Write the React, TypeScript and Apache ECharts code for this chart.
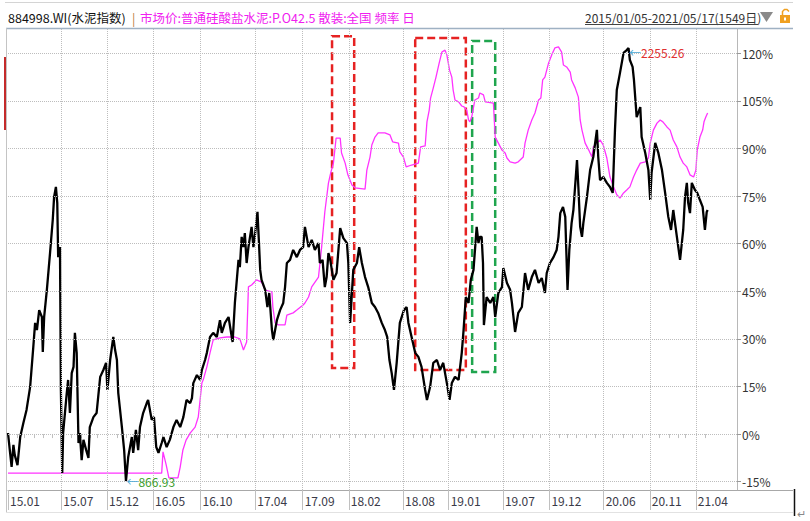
import React, { useEffect, useRef } from "react";
import * as echarts from "echarts";

// ---------- texts ----------
const indexName = "884998.WI(水泥指数)";
const priceName = "市场价:普通硅酸盐水泥:P.O42.5 散装:全国 频率 日";
const dateRange = "2015/01/05-2021/05/17(1549日)";

// ---------- x axis (trading-day index) ----------
const xTickIdx = [0, 118, 219, 321, 426, 547, 652, 754, 874, 975, 1095, 1198, 1318, 1420, 1522];
const xTickLabels = ["15.01", "15.07", "15.12", "16.05", "16.10", "17.04", "17.09", "18.02", "18.08", "19.01", "19.07", "19.12", "20.06", "20.11", "21.04"];
const monthStartIdx = [
  20, 35, 57, 78, 97, 141, 162, 182, 198, 242, 262, 278, 301, 342, 362, 383, 406, 442, 464,
  486, 504, 524, 565, 586, 608, 629, 673, 690, 712, 732, 769, 791, 810, 832, 852, 897, 916,
  934, 956, 997, 1013, 1034, 1055, 1076, 1118, 1140, 1159, 1177, 1220, 1237, 1257, 1279, 1300,
  1338, 1361, 1382, 1404, 1441, 1464, 1484, 1499, 1543,
];
const xMax = 1613;

// ---------- y axis ----------
const pctTicks = [-15, 0, 15, 30, 45, 60, 75, 90, 105, 120];
const pctMin = -17.62;
const pctMax = 127.66;
const baseIndex = 1017.5; // index level at 0%

// ---------- series ----------
// 水泥指数 (index level), [trading-day index, value]
const cementIndex: [number, number][] = [
  [0, 1021], [4, 966], [8, 912], [12, 983], [15, 950], [21, 918], [27, 1008], [34, 1053], [41, 1095],
  [49, 1169], [56, 1297], [60, 1374], [64, 1351], [69, 1415], [75, 1393], [77, 1281], [80, 1393],
  [86, 1480], [93, 1598], [99, 1704], [102, 1778], [106, 1810], [109, 1759], [111, 1585], [115, 1617],
  [117, 1159], [120, 893], [122, 1021], [130, 1149], [133, 1191], [137, 1085], [141, 1213], [145, 1233],
  [148, 1342], [152, 1278], [156, 989], [159, 1021], [163, 934], [167, 999], [173, 966], [178, 941],
  [181, 1040], [189, 1072], [196, 1085], [204, 1201], [211, 1223], [217, 1246], [220, 1159], [226, 1255],
  [233, 1329], [237, 1287], [241, 1255], [244, 1149], [252, 1040], [257, 966], [261, 866.93], [266, 944],
  [274, 1008], [277, 957], [283, 1031], [288, 966], [292, 1040], [299, 1085], [307, 1117], [310, 1127],
  [318, 1063], [323, 1072], [328, 976], [333, 957], [340, 989], [344, 1008], [351, 976], [358, 999],
  [366, 1040], [373, 1063], [381, 1040], [388, 1072], [395, 1127], [403, 1117], [407, 1133], [410, 1181],
  [418, 1207], [425, 1191], [429, 1223], [436, 1255], [440, 1278], [447, 1329], [454, 1342], [462, 1329],
  [469, 1383], [473, 1342], [480, 1374], [488, 1393], [495, 1329], [497, 1313], [502, 1438], [510, 1576],
  [513, 1553], [517, 1650], [521, 1617], [524, 1662], [528, 1566], [532, 1617], [539, 1682], [543, 1617],
  [547, 1662], [552, 1730], [555, 1640], [558, 1544], [561, 1512], [569, 1480], [574, 1425], [578, 1470],
  [584, 1351], [587, 1319], [595, 1383], [602, 1415], [609, 1438], [613, 1489], [617, 1566], [624, 1576],
  [631, 1608], [639, 1585], [646, 1608], [653, 1617], [657, 1682], [665, 1617], [672, 1640], [679, 1608],
  [687, 1630], [690, 1566], [696, 1576], [701, 1489], [705, 1521], [709, 1598], [713, 1576], [720, 1512],
  [727, 1534], [735, 1678], [742, 1646], [750, 1630], [753, 1566], [757, 1374], [764, 1544], [772, 1566],
  [777, 1617], [783, 1566], [790, 1521], [797, 1489], [805, 1438], [812, 1425], [819, 1406], [827, 1374],
  [834, 1351], [839, 1329], [844, 1255], [849, 1213], [854, 1159], [860, 1246], [867, 1374], [876, 1415],
  [882, 1425], [886, 1374], [893, 1329], [901, 1278], [908, 1265], [915, 1233], [923, 1159], [927, 1127],
  [934, 1169], [941, 1246], [949, 1255], [956, 1223], [963, 1246], [971, 1181], [977, 1127], [982, 1181],
  [989, 1201], [997, 1191], [1004, 1278], [1008, 1351], [1013, 1457], [1019, 1438], [1024, 1512],
  [1030, 1544], [1037, 1682], [1041, 1630], [1044, 1650], [1048, 1650], [1051, 1566], [1053, 1367],
  [1059, 1457], [1067, 1438], [1074, 1457], [1078, 1393], [1085, 1470], [1093, 1489], [1096, 1550],
  [1104, 1502], [1111, 1480], [1115, 1438], [1122, 1345], [1129, 1406], [1137, 1425], [1144, 1534],
  [1151, 1480], [1159, 1521], [1166, 1544], [1174, 1502], [1181, 1518], [1188, 1470], [1192, 1534],
  [1199, 1566], [1207, 1585], [1214, 1608], [1218, 1650], [1222, 1726], [1228, 1746], [1233, 1714],
  [1238, 1480], [1242, 1608], [1247, 1694], [1251, 1736], [1259, 1896], [1262, 1810], [1266, 1682],
  [1270, 1650], [1273, 1694], [1281, 1778], [1288, 1864], [1295, 1906], [1303, 1993], [1306, 1906],
  [1310, 1832], [1317, 1842], [1325, 1823], [1332, 1810], [1338, 1791], [1343, 1993], [1347, 2121],
  [1354, 2175], [1362, 2240], [1369, 2249], [1373, 2255.26], [1376, 2217], [1382, 2195], [1385, 2153],
  [1391, 2034], [1399, 2066], [1402, 1970], [1410, 1919], [1417, 1864], [1421, 1768], [1424, 1855],
  [1432, 1951], [1439, 1919], [1447, 1864], [1454, 1791], [1461, 1714], [1467, 1672], [1472, 1736],
  [1480, 1650], [1487, 1576], [1494, 1672], [1498, 1778], [1502, 1823], [1505, 1759], [1509, 1726],
  [1513, 1823], [1520, 1800], [1525, 1791], [1531, 1768], [1537, 1746], [1542, 1672], [1546, 1730],
  [1548, 1736],
];

// 市场价 (plotted on the % scale), [trading-day index, value]
const cementPrice: [number, number][] = [
  [0, -12.3], [332, -12.3], [340, -12.3], [343, -5.6], [350, -9.7], [356, -13.8], [376, -13.8],
  [381, -10.4], [387, -5.0], [394, -1.9], [403, 0.3], [414, 2.2], [421, 5.4], [429, 16.1], [432, 17.1],
  [440, 21.2], [447, 25.6], [454, 29.7], [469, 30.3], [484, 30.6], [502, 30.6], [513, 30.0], [521, 26.5],
  [528, 29.0], [532, 46.4], [539, 47.0], [550, 48.6], [561, 47.9], [569, 45.4], [584, 44.8], [586, 40.1],
  [591, 35.0], [598, 34.4], [613, 34.4], [617, 37.5], [631, 38.2], [639, 39.1], [653, 40.7], [657, 41.3],
  [665, 43.2], [672, 46.4], [687, 49.5], [694, 59.0], [701, 70.0], [709, 79.1], [714, 82.3], [720, 85.4],
  [726, 93.3], [735, 93.3], [738, 88.6], [746, 85.4], [752, 81.7], [761, 78.5], [768, 77.6], [790, 77.2],
  [794, 83.2], [801, 87.3], [805, 91.1], [812, 93.6], [819, 94.9], [834, 94.9], [845, 94.3], [851, 92.1],
  [864, 91.7], [867, 88.9], [875, 87.3], [881, 84.2], [893, 84.8], [908, 85.4], [913, 90.5], [923, 90.8],
  [927, 98.4], [932, 102.1], [935, 105.9], [941, 109.1], [947, 112.5], [954, 116.9], [960, 120.4],
  [967, 121.0], [971, 119.5], [977, 114.7], [982, 112.5], [985, 108.4], [989, 105.3], [997, 104.7],
  [1004, 103.4], [1009, 103.1], [1015, 102.1], [1019, 99.0], [1022, 98.4], [1026, 99.9], [1033, 105.3],
  [1041, 105.9], [1044, 107.5], [1052, 106.9], [1056, 104.7], [1074, 104.3], [1078, 93.6], [1085, 91.7],
  [1093, 89.5], [1100, 88.6], [1104, 87.0], [1111, 85.8], [1122, 85.4], [1129, 85.8], [1140, 87.3],
  [1144, 91.7], [1151, 95.8], [1159, 99.0], [1166, 101.2], [1174, 105.3], [1179, 105.9], [1183, 111.6],
  [1188, 112.5], [1196, 116.9], [1203, 119.5], [1210, 121.7], [1218, 122.0], [1225, 120.4], [1229, 116.3],
  [1236, 115.7], [1244, 114.1], [1247, 111.6], [1255, 109.1], [1262, 106.2], [1266, 99.0], [1270, 95.8],
  [1277, 91.7], [1285, 89.5], [1292, 87.3], [1295, 90.5], [1303, 91.7], [1310, 92.7], [1317, 91.1],
  [1325, 87.0], [1332, 81.0], [1340, 77.9], [1347, 75.4], [1354, 74.4], [1362, 76.0], [1369, 76.9],
  [1376, 77.9], [1384, 81.0], [1391, 83.2], [1399, 85.4], [1410, 85.8], [1417, 87.0], [1421, 91.7],
  [1428, 95.8], [1436, 98.0], [1443, 99.0], [1449, 98.4], [1458, 96.8], [1465, 95.8], [1472, 92.7],
  [1480, 90.5], [1487, 87.3], [1494, 85.4], [1502, 84.2], [1509, 81.7], [1517, 81.0], [1522, 83.2],
  [1525, 89.5], [1531, 93.6], [1537, 95.8], [1540, 98.4], [1544, 99.9], [1548, 101.2],
];

// dashed highlight boxes: [x from, x to] trading-day index, [y from, y to] in %
const boxXFrom = [717, 901, 1027];
const boxXTo = [766, 1013, 1078];
const boxYTop = [125.4, 124.8, 123.9];
const boxYBottom = [20.8, 20.2, 19.6];
const boxColors = ["#e62222", "#e62222", "#1fa54e"];

const FONT = '"Microsoft YaHei", "Noto Sans CJK SC", sans-serif';
const GRID_DOT = { type: "dotted", color: "#bdbdbd", width: 1 };

export default function App() {
  const ref = useRef<HTMLDivElement>(null);

  useEffect(() => {
    if (!ref.current) return;
    const chart = echarts.init(ref.current, null, { renderer: "svg" });

    const labelMap: Record<number, string> = {};
    xTickIdx.forEach((v, i) => (labelMap[v] = xTickLabels[i]));

    const option: any = {
      animation: false,
      backgroundColor: "#ffffff",
      grid: { left: 8, right: 73, top: 29, bottom: 31, containLabel: false },
      xAxis: [
        {
          type: "value",
          min: 0,
          max: xMax,
          position: "bottom",
          axisLine: { show: true, onZero: false, lineStyle: { color: "#a8a8a8", width: 1 } },
          axisTick: { show: true, customValues: xTickIdx, length: 20, lineStyle: { color: "#c0c0c0" } },
          axisLabel: {
            show: true,
            customValues: xTickIdx,
            formatter: (v: number) => labelMap[v] ?? "",
            align: "left",
            margin: 4,
            padding: [0, 0, 0, 2],
            color: "#3a3a48",
            fontSize: 12,
            fontFamily: FONT,
          },
          splitLine: { show: false },
        },
        {
          type: "value",
          min: 0,
          max: xMax,
          position: "bottom",
          axisLine: { show: false },
          axisTick: { show: true, customValues: monthStartIdx, length: 4, lineStyle: { color: "#c0c0c0" } },
          axisLabel: { show: false },
          splitLine: { show: false },
        },
      ],
      yAxis: [
        {
          type: "value",
          position: "right",
          min: pctMin,
          max: pctMax,
          axisLine: { show: true, onZero: false, lineStyle: { color: "#b8b8b8", width: 1 } },
          axisTick: { show: true, customValues: pctTicks, length: 4, lineStyle: { color: "#999" } },
          axisLabel: {
            customValues: pctTicks,
            formatter: (v: number) => `${v}%`,
            margin: 5,
            color: "#333",
            fontSize: 12,
            fontFamily: FONT,
          },
          splitLine: { show: false },
        },
        {
          type: "value",
          position: "left",
          min: baseIndex * (1 + pctMin / 100),
          max: baseIndex * (1 + pctMax / 100),
          show: false,
          splitLine: { show: false },
        },
      ],
      series: [
        {
          name: "grid",
          type: "line",
          xAxisIndex: 0,
          yAxisIndex: 0,
          data: [],
          z: 1,
          silent: true,
          markLine: {
            silent: true,
            symbol: ["none", "none"],
            label: { show: false },
            lineStyle: GRID_DOT,
            data: [
              ...pctTicks.map((v) => ({ yAxis: v, lineStyle: GRID_DOT })),
              ...xTickIdx.filter((v) => v > 0).map((v) => ({ xAxis: v, lineStyle: GRID_DOT })),
            ],
          },
        },
        {
          name: priceName,
          type: "line",
          xAxisIndex: 0,
          yAxisIndex: 0,
          data: cementPrice,
          symbol: "none",
          lineStyle: { color: "#ff33ff", width: 1.3 },
          z: 2,
          silent: true,
          markArea: {
            silent: true,
            data: boxXFrom.map((x1, i) => [
              {
                coord: [x1, boxYTop[i]],
                itemStyle: {
                  color: "rgba(0,0,0,0)",
                  borderColor: boxColors[i],
                  borderWidth: 2.5,
                  borderType: [8, 4],
                },
              },
              { coord: [boxXTo[i], boxYBottom[i]] },
            ]),
          },
        },
        {
          name: indexName,
          type: "line",
          xAxisIndex: 0,
          yAxisIndex: 1,
          data: cementIndex,
          symbol: "none",
          lineStyle: { color: "#000000", width: 2.3 },
          z: 3,
          silent: true,
          markPoint: {
            silent: true,
            symbol: "circle",
            symbolSize: 1,
            itemStyle: { color: "rgba(0,0,0,0)" },
            data: [
              {
                type: "max",
                label: {
                  show: true,
                  position: "right",
                  distance: 0,
                  offset: [0, 4],
                  formatter: (p: any) => `{a|←}{b|${p.value}}`,
                  rich: {
                    a: { color: "#4aa8d4", fontSize: 12, fontFamily: FONT },
                    b: { color: "#e0302f", fontSize: 12, fontFamily: FONT },
                  },
                },
              },
              {
                type: "min",
                label: {
                  show: true,
                  position: "right",
                  distance: 0,
                  offset: [0, 0],
                  formatter: (p: any) => `{a|←}{b|${p.value}}`,
                  rich: {
                    a: { color: "#4aa8d4", fontSize: 12, fontFamily: FONT },
                    b: { color: "#3e9e2c", fontSize: 12, fontFamily: FONT },
                  },
                },
              },
            ],
          },
        },
      ],
      graphic: [
        { type: "line", shape: { x1: 5, y1: 2.5, x2: 793, y2: 2.5 }, style: { stroke: "#d4d4d4", lineWidth: 1 }, silent: true },
        { type: "line", shape: { x1: 6, y1: 28.5, x2: 793, y2: 28.5 }, style: { stroke: "#9fb1c3", lineWidth: 1.5 }, silent: true },
        { type: "line", shape: { x1: 6.5, y1: 28, x2: 6.5, y2: 512 }, style: { stroke: "#c4c4c4", lineWidth: 1 }, silent: true },
        { type: "line", shape: { x1: 5, y1: 57, x2: 5, y2: 130 }, style: { stroke: "#c42a2a", lineWidth: 2 }, silent: true },
        { type: "line", shape: { x1: 6, y1: 512.5, x2: 793, y2: 512.5 }, style: { stroke: "#e2e2e2", lineWidth: 1 }, silent: true },
        { type: "line", shape: { x1: 737, y1: 490.5, x2: 793, y2: 490.5 }, style: { stroke: "#a8a8a8", lineWidth: 1 }, silent: true },
        { type: "line", shape: { x1: 794.5, y1: 489, x2: 794.5, y2: 516 }, style: { stroke: "#111", lineWidth: 1.5 }, silent: true },
        { type: "text", x: 797, y: 513, style: { text: "↵", fill: "#888", font: `11px ${FONT}`, verticalAlign: "middle" }, silent: true },
        // header
        { type: "text", x: 8, y: 17, style: { text: indexName, fill: "#111", font: `12.5px ${FONT}`, verticalAlign: "middle" }, silent: true },
        { type: "text", x: 132, y: 17, style: { text: "|", fill: "#b8783c", font: `12.5px ${FONT}`, verticalAlign: "middle" }, silent: true },
        { type: "text", x: 140, y: 17, style: { text: priceName, fill: "#f020f0", font: `12.5px ${FONT}`, verticalAlign: "middle" }, silent: true },
        { type: "text", x: 585, y: 17, style: { text: dateRange, fill: "#333", font: `12px ${FONT}`, verticalAlign: "middle" }, silent: true },
        { type: "line", shape: { x1: 585, y1: 24.5, x2: 758, y2: 24.5 }, style: { stroke: "#444", lineWidth: 1 }, silent: true },
        { type: "polygon", shape: { points: [[760, 12], [773, 12], [766.5, 22]] }, style: { fill: "#8a8a8a" }, silent: true },
        { type: "polyline", shape: { points: [[782.5, 15], [782.5, 11.5], [784.5, 9.5], [787, 9.5], [789, 11.5]] }, style: { stroke: "#f0a020", lineWidth: 1.5, fill: "none" }, silent: true },
        { type: "rect", shape: { x: 780, y: 15, width: 10, height: 8 }, style: { fill: "#f0a020" }, silent: true },
        { type: "rect", shape: { x: 784, y: 17.5, width: 2, height: 3 }, style: { fill: "#ffffff" }, silent: true },
      ],
    };

    chart.setOption(option);
    return () => chart.dispose();
  }, []);

  return (
    <div
      ref={ref}
      style={{ position: "fixed", left: 0, top: 0, width: 810, height: 521, background: "#fff" }}
    />
  );
}
